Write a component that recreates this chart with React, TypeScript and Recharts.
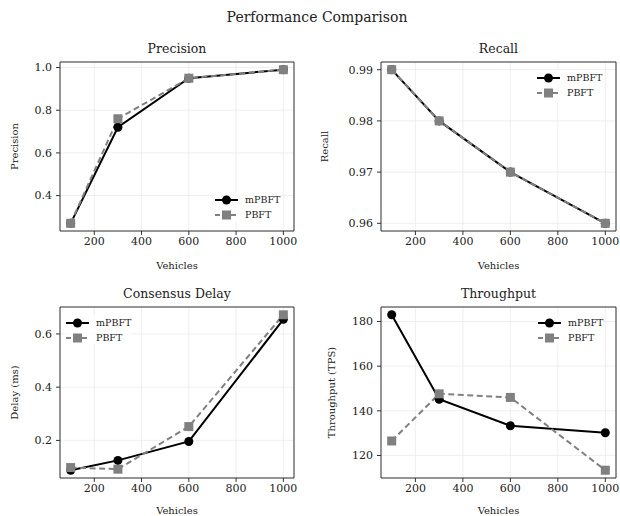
import React from 'react';
import { LineChart, Line, XAxis, YAxis, CartesianGrid, ReferenceArea } from 'recharts';

const vehicles = [100, 300, 600, 1000];
const xTicks = [200, 400, 600, 800, 1000];

const precisionMPBFT = [0.27, 0.72, 0.95, 0.99];
const precisionPBFT = [0.27, 0.76, 0.95, 0.99];
const precisionTicks = [0.4, 0.6, 0.8, 1.0];

const recallMPBFT = [0.99, 0.98, 0.97, 0.96];
const recallPBFT = [0.99, 0.98, 0.97, 0.96];
const recallTicks = [0.96, 0.97, 0.98, 0.99];

const delayMPBFT = [0.088, 0.125, 0.196, 0.655];
const delayPBFT = [0.098, 0.092, 0.252, 0.672];
const delayTicks = [0.2, 0.4, 0.6];

const throughputMPBFT = [183, 145.2, 133.3, 130.2];
const throughputPBFT = [126.5, 147.6, 146, 113.4];
const throughputTicks = [120, 140, 160, 180];

const seriesNames = ['mPBFT', 'PBFT'];

const FONT = '"DejaVu Serif", serif';
const BLACK = '#000000';
const GRAY = '#808080';

function pad(values: number[]): [number, number] {
  const lo = Math.min(...values);
  const hi = Math.max(...values);
  const r = hi - lo;
  return [lo - 0.05 * r, hi + 0.05 * r];
}

function buildData(a: number[], b: number[]) {
  return vehicles.map((v, i) => ({ v, m: a[i], p: b[i] }));
}

const SquareDot = (props: any) => {
  const { cx, cy } = props;
  if (cx == null || cy == null) return null;
  return <rect x={cx - 4.5} y={cy - 4.5} width={9} height={9} fill={GRAY} />;
};

const CircleDot = (props: any) => {
  const { cx, cy } = props;
  if (cx == null || cy == null) return null;
  return <circle cx={cx} cy={cy} r={4.5} fill={BLACK} />;
};

const LegendBox = ({ left, top }: { left: number; top: number }) => (
  <div
    style={{
      position: 'absolute',
      left,
      top,
      fontFamily: FONT,
      fontSize: 9.5,
      color: '#222',
      lineHeight: '15px',
      background: 'rgba(255,255,255,0.8)',
    }}
  >
    {[
      { name: seriesNames[0], color: BLACK, dash: undefined, square: false },
      { name: seriesNames[1], color: GRAY, dash: '5 3', square: true },
    ].map((s) => (
      <div key={s.name} style={{ display: 'flex', alignItems: 'center', height: 15 }}>
        <svg width={25} height={12} style={{ display: 'block' }}>
          <line x1={1} y1={6} x2={24} y2={6} stroke={s.color} strokeWidth={2} strokeDasharray={s.dash} />
          {s.square ? (
            <rect x={8} y={1.5} width={9} height={9} fill={s.color} />
          ) : (
            <circle cx={12.5} cy={6} r={4.5} fill={s.color} />
          )}
        </svg>
        <span style={{ marginLeft: 6 }}>{s.name}</span>
      </div>
    ))}
  </div>
);

type PanelProps = {
  title: string;
  ylabel: string;
  a: number[];
  b: number[];
  yTicks: number[];
  fmt: (v: number) => string;
  left: number;
  top: number;
  width: number;
  height: number;
  marginLeft: number;
  marginRight: number;
  marginTop: number;
  marginBottom: number;
  yAxisWidth: number;
  xAxisHeight: number;
  yLabelOffset: number;
  legendLeft: number;
  legendTop: number;
};

const Panel = (p: PanelProps) => {
  const data = buildData(p.a, p.b);
  const xDomain = pad(vehicles);
  const yDomain = pad([...p.a, ...p.b]);
  const plotLeft = p.marginLeft + p.yAxisWidth;
  const plotRight = p.width - p.marginRight;
  const plotCenter = (plotLeft + plotRight) / 2;
  const tickStyle = { fontFamily: FONT, fontSize: 11, fill: '#222' };
  return (
    <div style={{ position: 'absolute', left: p.left, top: p.top, width: p.width, height: p.height }}>
      <div
        style={{
          position: 'absolute',
          left: plotCenter - 100,
          width: 200,
          top: 0,
          textAlign: 'center',
          fontFamily: FONT,
          fontSize: 12.5,
          color: '#222',
          lineHeight: '17px',
        }}
      >
        {p.title}
      </div>
      <LineChart
        width={p.width}
        height={p.height}
        data={data}
        margin={{ left: p.marginLeft, right: p.marginRight, top: p.marginTop, bottom: p.marginBottom }}
      >
        <CartesianGrid stroke="#ebebeb" strokeWidth={0.8} />
        <XAxis
          dataKey="v"
          type="number"
          domain={xDomain}
          ticks={xTicks}
          allowDataOverflow
          axisLine={false}
          tickSize={4}
          tickMargin={2}
          tickLine={{ stroke: '#333' }}
          tick={tickStyle}
          height={p.xAxisHeight}
          label={(props: any) => {
            const vb = props.viewBox;
            return (
              <text
                x={vb.x + vb.width / 2}
                y={vb.y + vb.height - 2}
                textAnchor="middle"
                fontFamily={FONT}
                fontSize={10}
                fill="#222"
              >
                Vehicles
              </text>
            );
          }}
        />
        <YAxis
          type="number"
          domain={yDomain}
          ticks={p.yTicks}
          allowDataOverflow
          axisLine={false}
          tickSize={4}
          tickMargin={4}
          tickLine={{ stroke: '#333' }}
          tick={tickStyle}
          tickFormatter={p.fmt}
          width={p.yAxisWidth}
          label={(props: any) => {
            const vb = props.viewBox;
            const x = vb.x + p.yLabelOffset;
            const y = vb.y + vb.height / 2;
            return (
              <text
                x={x}
                y={y}
                transform={`rotate(-90, ${x}, ${y})`}
                textAnchor="middle"
                dominantBaseline="central"
                fontFamily={FONT}
                fontSize={10}
                fill="#222"
              >
                {p.ylabel}
              </text>
            );
          }}
        />
        <ReferenceArea
          x1={xDomain[0]}
          x2={xDomain[1]}
          y1={yDomain[0]}
          y2={yDomain[1]}
          fill="none"
          stroke="#333"
          strokeWidth={1}
          ifOverflow="visible"
        />
        <Line
          dataKey="m"
          name={seriesNames[0]}
          stroke={BLACK}
          strokeWidth={2}
          dot={<CircleDot />}
          activeDot={false}
          isAnimationActive={false}
        />
        <Line
          dataKey="p"
          name={seriesNames[1]}
          stroke={GRAY}
          strokeWidth={2}
          strokeDasharray="6 3.5"
          dot={<SquareDot />}
          activeDot={false}
          isAnimationActive={false}
        />
      </LineChart>
      <LegendBox left={p.legendLeft} top={p.legendTop} />
    </div>
  );
};

const f1 = (v: number) => v.toFixed(1);
const f2 = (v: number) => v.toFixed(2);
const f0 = (v: number) => v.toFixed(0);

export default function App() {
  return (
    <div style={{ position: 'absolute', left: 0, top: 0, width: 620, height: 516, background: '#fff', overflow: 'hidden' }}>
      <div
        style={{
          position: 'absolute',
          left: 0,
          width: 634,
          top: 8,
          textAlign: 'center',
          fontFamily: FONT,
          fontSize: 14,
          color: '#222',
          lineHeight: '18px',
        }}
      >
        Performance Comparison
      </div>
      <Panel
        title="Precision"
        ylabel="Precision"
        a={precisionMPBFT}
        b={precisionPBFT}
        yTicks={precisionTicks}
        fmt={f1}
        left={0}
        top={40}
        width={310}
        height={240}
        marginLeft={10}
        marginRight={16}
        marginTop={22}
        marginBottom={9}
        yAxisWidth={50}
        xAxisHeight={40}
        yLabelOffset={4}
        legendLeft={214}
        legendTop={152}
      />
      <Panel
        title="Recall"
        ylabel="Recall"
        a={recallMPBFT}
        b={recallPBFT}
        yTicks={recallTicks}
        fmt={f2}
        left={310}
        top={40}
        width={310}
        height={240}
        marginLeft={10}
        marginRight={4}
        marginTop={22}
        marginBottom={9}
        yAxisWidth={61}
        xAxisHeight={40}
        yLabelOffset={4}
        legendLeft={226}
        legendTop={30}
      />
      <Panel
        title="Consensus Delay"
        ylabel="Delay (ms)"
        a={delayMPBFT}
        b={delayPBFT}
        yTicks={delayTicks}
        fmt={f1}
        left={0}
        top={285}
        width={310}
        height={231}
        marginLeft={10}
        marginRight={16}
        marginTop={22}
        marginBottom={0}
        yAxisWidth={50}
        xAxisHeight={38}
        yLabelOffset={4}
        legendLeft={65}
        legendTop={30}
      />
      <Panel
        title="Throughput"
        ylabel="Throughput (TPS)"
        a={throughputMPBFT}
        b={throughputPBFT}
        yTicks={throughputTicks}
        fmt={f0}
        left={310}
        top={285}
        width={310}
        height={231}
        marginLeft={10}
        marginRight={4}
        marginTop={22}
        marginBottom={0}
        yAxisWidth={61}
        xAxisHeight={38}
        yLabelOffset={11}
        legendLeft={227}
        legendTop={30}
      />
    </div>
  );
}
